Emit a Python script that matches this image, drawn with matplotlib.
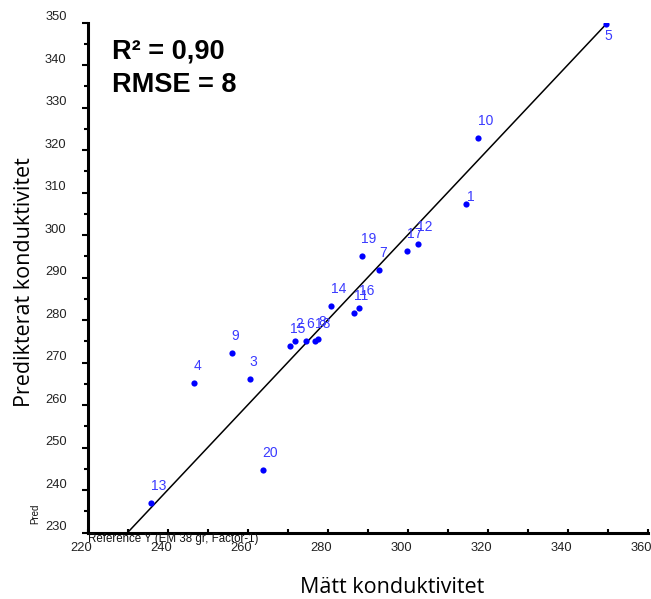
import matplotlib.pyplot as plt
import matplotlib.transforms as mtransforms
from matplotlib.ticker import MultipleLocator

# {{{ data
sample_ids = ["1", "2", "3", "4", "5", "6", "7", "8", "9", "10",
              "11", "12", "13", "14", "15", "16", "17", "18", "19", "20"]
measured = [314.5, 271.9, 260.6, 246.6, 349.5, 274.6, 292.9, 277.6, 256.0, 317.6,
            286.7, 302.5, 235.9, 280.8, 270.7, 287.8, 299.8, 276.9, 288.5, 263.8]
predicted = [307.3, 275.0, 266.1, 265.2, 349.6, 275.0, 291.9, 275.5, 272.3, 322.9,
             281.7, 297.9, 237.0, 283.3, 273.9, 282.9, 296.3, 275.0, 295.0, 244.8]
# label offsets in pixels (dx, dy) -- most sit just above the point
label_offsets = {"1": (1, 0), "5": (-1, -19)}
target_line = [230, 350]
x_limits = (220, 360)
y_limits = (230, 350)
r2_text = "R\u00b2 = 0,90"
rmse_text = "RMSE = 8"
# }}}

dpi = 100
fig = plt.figure(figsize=(6.51, 5.99), dpi=dpi)
W, H = 651, 599
ax = fig.add_axes([87.5 / W, (H - 532.7) / H, 560 / W, 510 / H])

ax.plot(target_line, target_line, color="black", lw=1.1, zorder=2)
ax.scatter(measured, predicted, s=20, color="#0000ff", zorder=3, linewidths=0)
for sid, mx, py in zip(sample_ids, measured, predicted):
    dx, dy = label_offsets.get(sid, (0, 10))
    ax.annotate(sid, (mx, py), xytext=(dx, dy), textcoords="offset pixels",
                ha="left", va="bottom", fontsize=10, color="#3a3aff",
                family="Liberation Sans", zorder=4)

ax.set_xlim(*x_limits)
ax.set_ylim(*y_limits)
ax.xaxis.set_major_locator(MultipleLocator(20))
ax.xaxis.set_minor_locator(MultipleLocator(10))
ax.yaxis.set_major_locator(MultipleLocator(10))
ax.yaxis.set_minor_locator(MultipleLocator(5))

for side in ["top", "right"]:
    ax.spines[side].set_visible(False)
for side in ["left", "bottom"]:
    ax.spines[side].set_linewidth(2.2)

ax.tick_params(axis="y", which="major", direction="out", length=4.5, width=1.5,
               pad=10.5, labelsize=9.3, labelcolor="#222222")
ax.tick_params(axis="y", which="minor", direction="out", length=3, width=1.5)
ax.tick_params(axis="x", which="major", direction="in", length=3, width=1.5,
               pad=7, labelsize=9.3, labelcolor="#222222")
ax.tick_params(axis="x", which="minor", direction="in", length=3, width=1.5)

for lab in ax.get_yticklabels() + ax.get_xticklabels():
    lab.set_family("Liberation Sans")
# tick labels in the reference sit a little off their ticks
y_shift = mtransforms.ScaledTranslation(0, 7 / dpi, fig.dpi_scale_trans)
x_shift = mtransforms.ScaledTranslation(-6.5 / dpi, 0, fig.dpi_scale_trans)
for lab in ax.get_yticklabels():
    lab.set_transform(lab.get_transform() + y_shift)
for lab in ax.get_xticklabels():
    lab.set_transform(lab.get_transform() + x_shift)

ax.set_ylabel("Predikterat konduktivitet", family="Open Sans", fontsize=15.5)
ax.yaxis.set_label_coords(-0.1027, 0.492)
ax.yaxis.label.set_va("baseline")
ax.set_xlabel("M\u00e4tt konduktivitet", family="Open Sans", fontsize=15.5)
ax.xaxis.set_label_coords(0.5445, -0.118)
ax.xaxis.label.set_va("baseline")

# small leftover captions from the source software
ax.annotate("Reference Y (EM 38 gr, Factor-1)", (0, 0), xycoords="axes fraction",
            xytext=(1, -6), textcoords="offset pixels", ha="left", va="center",
            fontsize=8.3, family="Liberation Sans", color="#111111")
ax.annotate("Pred", (0, 0), xycoords="axes fraction", xytext=(-52.5, 19),
            textcoords="offset pixels", ha="center", va="center", rotation=90,
            fontsize=7, family="Liberation Sans", color="#111111")

ax.annotate(r2_text, (0, 1), xycoords="axes fraction", xytext=(24, -36),
            textcoords="offset pixels", ha="left", va="baseline",
            fontsize=19.5, fontweight="bold", family="Liberation Sans")
ax.annotate(rmse_text, (0, 1), xycoords="axes fraction", xytext=(24, -69),
            textcoords="offset pixels", ha="left", va="baseline",
            fontsize=19.5, fontweight="bold", family="Liberation Sans")

fig.savefig("out.png", dpi=dpi)
